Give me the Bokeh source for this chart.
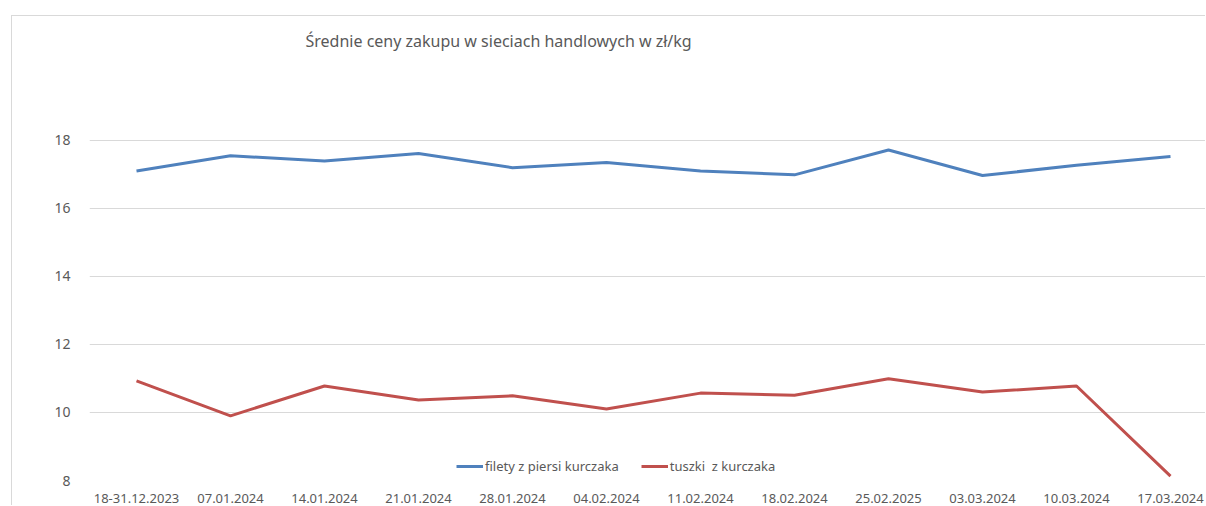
from bokeh.plotting import figure
from bokeh.models import Range1d, FixedTicker, Legend, LegendItem, Label
from bokeh.embed import file_html
from bokeh.resources import INLINE

dates = ["18-31.12.2023", "07.01.2024", "14.01.2024", "21.01.2024", "28.01.2024",
         "04.02.2024", "11.02.2024", "18.02.2024", "25.02.2025", "03.03.2024",
         "10.03.2024", "17.03.2024"]
filety = [17.10, 17.55, 17.40, 17.62, 17.20, 17.35, 17.10, 16.99, 17.72, 16.97, 17.27, 17.53]
tuszki = [10.93, 9.90, 10.78, 10.37, 10.49, 10.10, 10.57, 10.51, 10.99, 10.60, 10.78, 8.13]
y_ticks = [8, 10, 12, 14, 16, 18]
title_text = "Średnie ceny zakupu w sieciach handlowych w zł/kg"
series_names = ["filety z piersi kurczaka", "tuszki  z kurczaka"]
series_colors = ["#4F81BD", "#C0504D"]

FONT = "Noto Sans"
TXT = "#595959"

x = list(range(len(dates)))

p = figure(width=1194, height=490, output_backend="svg", toolbar_location=None,
           x_range=Range1d(-0.5, 11.383), y_range=Range1d(8, 21.529),
           min_border_left=77, min_border_right=0, min_border_top=4, min_border_bottom=26)
p.margin = (15, 0, 0, 11)
p.styles = {"border-left": "1px solid #d9d9d9", "border-top": "1px solid #d9d9d9"}
p.outline_line_color = None
p.background_fill_color = "white"
p.border_fill_color = "white"

r1 = p.line(x, filety, line_color=series_colors[0], line_width=3)
r2 = p.line(x, tuszki, line_color=series_colors[1], line_width=3)

p.xaxis.ticker = FixedTicker(ticks=x)
p.xaxis.major_label_overrides = {i: d for i, d in zip(x, dates)}
p.yaxis.ticker = FixedTicker(ticks=y_ticks)
for ax in (p.xaxis, p.yaxis):
    ax.axis_line_color = None
    ax.major_tick_line_color = None
    ax.minor_tick_line_color = None
    ax.major_label_text_font = FONT
    ax.major_label_text_font_size = "13px"
    ax.major_label_text_color = TXT
p.yaxis.major_label_text_font_size = "14px"
p.yaxis.major_label_standoff = 13
p.xaxis.major_label_standoff = 7

p.xgrid.grid_line_color = None
p.ygrid.grid_line_color = "#d9d9d9"
p.ygrid.grid_line_width = 1

p.add_layout(Label(x=216, y=440, x_units="screen", y_units="screen", text=title_text,
                   text_font=FONT, text_font_size="16px", text_color=TXT,
                   text_baseline="middle"))

legend = Legend(items=[LegendItem(label=series_names[0], renderers=[r1]),
                       LegendItem(label=series_names[1], renderers=[r2])],
                location=(367, 5), orientation="horizontal",
                border_line_alpha=0, background_fill_alpha=0,
                padding=0, margin=0, spacing=22, glyph_width=27, glyph_height=14,
                label_standoff=2, label_text_font=FONT, label_text_font_size="13px",
                label_text_color=TXT)
p.add_layout(legend)

open("out.html", "w").write(file_html(p, INLINE))
